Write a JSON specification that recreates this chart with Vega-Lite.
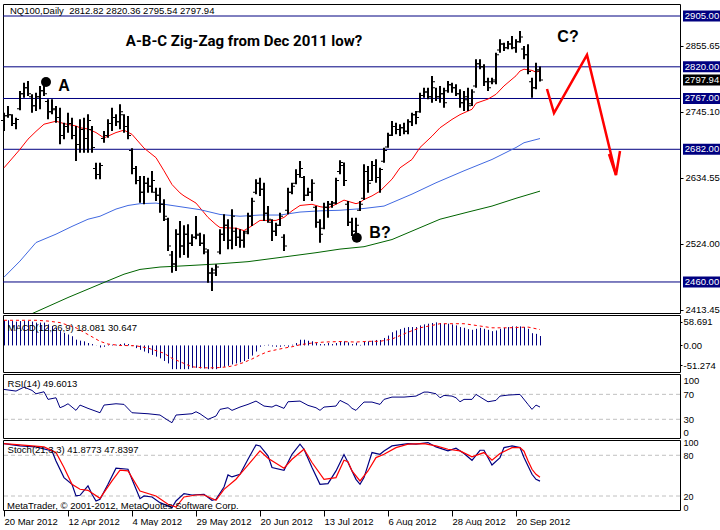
{
"$schema":"https://vega.github.io/schema/vega-lite/v6.json",
"padding":{"left":0,"top":3,"right":0,"bottom":0},
"background":"white",
"spacing":2,
"bounds":"flush",
"config":{"view":{"stroke":"black","strokeWidth":1},"font":"Liberation Sans","axis":{"labelFont":"Liberation Sans","labelFontSize":9.5,"labelColor":"black","tickColor":"black","domain":false,"grid":false}},
"datasets":{
"levels":[{"p":2905},{"p":2820},{"p":2767},{"p":2682},{"p":2460}],
"last":[{"p":2797.94}],
"bars":[{"i":0,"o":2730,"h":2743.3,"l":2712.6,"c":2738},{"i":1,"o":2738,"h":2754.4,"l":2734.9,"c":2740},{"i":2,"o":2740,"h":2740.5,"l":2720.9,"c":2725},{"i":3,"o":2725,"h":2734.9,"l":2715.4,"c":2732},{"i":4,"o":2750,"h":2779.5,"l":2747.2,"c":2775},{"i":5,"o":2775,"h":2793.5,"l":2768.4,"c":2785},{"i":6,"o":2785,"h":2796.2,"l":2771.1,"c":2775},{"i":7,"o":2770,"h":2773.9,"l":2743.3,"c":2755},{"i":8,"o":2755,"h":2776.7,"l":2746,"c":2770},{"i":9,"o":2770,"h":2787.9,"l":2748.8,"c":2780},{"i":10,"o":2780,"h":2790.7,"l":2771.1,"c":2775},{"i":11,"o":2762,"h":2765.6,"l":2732.1,"c":2745},{"i":12,"o":2745,"h":2765.6,"l":2740.5,"c":2750},{"i":13,"o":2748,"h":2754.4,"l":2726.5,"c":2735},{"i":14,"o":2735,"h":2751.6,"l":2690.3,"c":2705},{"i":15,"o":2705,"h":2726.5,"l":2698.6,"c":2720},{"i":16,"o":2720,"h":2743.3,"l":2709.8,"c":2725},{"i":17,"o":2725,"h":2734.9,"l":2698.6,"c":2705},{"i":18,"o":2705,"h":2720.9,"l":2662.4,"c":2690},{"i":19,"o":2690,"h":2732.1,"l":2676.3,"c":2715},{"i":20,"o":2715,"h":2734.9,"l":2676.3,"c":2700},{"i":21,"o":2700,"h":2740.5,"l":2676.3,"c":2730},{"i":22,"o":2715,"h":2720.9,"l":2676.3,"c":2685},{"i":23,"o":2650,"h":2659.6,"l":2631.7,"c":2640},{"i":24,"o":2640,"h":2659.6,"l":2631.7,"c":2655},{"i":25,"o":2700,"h":2712.6,"l":2693,"c":2705},{"i":26,"o":2705,"h":2732.1,"l":2701.4,"c":2725},{"i":27,"o":2725,"h":2751.6,"l":2712.6,"c":2735},{"i":28,"o":2735,"h":2740.5,"l":2720.9,"c":2728},{"i":29,"o":2728,"h":2757.2,"l":2715.4,"c":2745},{"i":30,"o":2740,"h":2740.5,"l":2709.8,"c":2720},{"i":31,"o":2720,"h":2737.7,"l":2698.6,"c":2705},{"i":32,"o":2680,"h":2683.6,"l":2640.1,"c":2650},{"i":33,"o":2650,"h":2654,"l":2623.4,"c":2630},{"i":34,"o":2630,"h":2637.3,"l":2592.7,"c":2610},{"i":35,"o":2610,"h":2637.3,"l":2589.9,"c":2625},{"i":36,"o":2625,"h":2634.5,"l":2609.4,"c":2620},{"i":37,"o":2620,"h":2645.7,"l":2609.4,"c":2630},{"i":38,"o":2610,"h":2617.8,"l":2595.5,"c":2605},{"i":39,"o":2605,"h":2617.8,"l":2576,"c":2590},{"i":40,"o":2590,"h":2598.3,"l":2562,"c":2570},{"i":41,"o":2565,"h":2567.6,"l":2511.8,"c":2520},{"i":42,"o":2505,"h":2511.8,"l":2475.6,"c":2490},{"i":43,"o":2490,"h":2548.1,"l":2478.4,"c":2540},{"i":44,"o":2540,"h":2562,"l":2500.7,"c":2520},{"i":45,"o":2520,"h":2555,"l":2505,"c":2540},{"i":46,"o":2540,"h":2556.5,"l":2500.7,"c":2525},{"i":47,"o":2525,"h":2539.8,"l":2520.2,"c":2535},{"i":48,"o":2535,"h":2570.4,"l":2531.4,"c":2540},{"i":49,"o":2538,"h":2542.5,"l":2520.2,"c":2525},{"i":50,"o":2525,"h":2539.8,"l":2506.3,"c":2515},{"i":51,"o":2510,"h":2514.7,"l":2458.9,"c":2475},{"i":52,"o":2475,"h":2484,"l":2445,"c":2480},{"i":53,"o":2475,"h":2489.6,"l":2470,"c":2485},{"i":54,"o":2510,"h":2548.1,"l":2506.3,"c":2540},{"i":55,"o":2540,"h":2573.2,"l":2528.6,"c":2555},{"i":56,"o":2555,"h":2564.8,"l":2514.7,"c":2530},{"i":57,"o":2530,"h":2581.6,"l":2514.7,"c":2570},{"i":58,"o":2545,"h":2550.9,"l":2520.2,"c":2535},{"i":59,"o":2535,"h":2548.1,"l":2517.4,"c":2530},{"i":60,"o":2530,"h":2545.3,"l":2517.4,"c":2542},{"i":61,"o":2545,"h":2576,"l":2539.8,"c":2570},{"i":62,"o":2570,"h":2601.1,"l":2553.7,"c":2595},{"i":63,"o":2610,"h":2631.8,"l":2606.7,"c":2625},{"i":64,"o":2625,"h":2634.6,"l":2603.9,"c":2615},{"i":65,"o":2615,"h":2626.2,"l":2562.1,"c":2575},{"i":66,"o":2575,"h":2587.2,"l":2559.3,"c":2565},{"i":67,"o":2560,"h":2564.8,"l":2528.6,"c":2545},{"i":68,"o":2545,"h":2559.3,"l":2537,"c":2555},{"i":69,"o":2555,"h":2576,"l":2553.7,"c":2570},{"i":70,"o":2535,"h":2539.8,"l":2511.9,"c":2520},{"i":71,"o":2580,"h":2617.8,"l":2573.2,"c":2610},{"i":72,"o":2610,"h":2626.2,"l":2606.7,"c":2620},{"i":73,"o":2625,"h":2648.5,"l":2623.4,"c":2640},{"i":74,"o":2640,"h":2662.5,"l":2634.6,"c":2650},{"i":75,"o":2635,"h":2637.4,"l":2595.5,"c":2605},{"i":76,"o":2605,"h":2617.8,"l":2603.9,"c":2610},{"i":77,"o":2610,"h":2631.8,"l":2595.5,"c":2625},{"i":78,"o":2585,"h":2587.2,"l":2550.9,"c":2560},{"i":79,"o":2560,"h":2564.8,"l":2525.8,"c":2540},{"i":80,"o":2550,"h":2592.7,"l":2548.1,"c":2585},{"i":81,"o":2585,"h":2595.5,"l":2567.6,"c":2590},{"i":82,"o":2590,"h":2595.5,"l":2584.4,"c":2592},{"i":83,"o":2592,"h":2634.6,"l":2589.9,"c":2630},{"i":84,"o":2645,"h":2663.6,"l":2640.1,"c":2660},{"i":85,"o":2655,"h":2659.7,"l":2620.6,"c":2630},{"i":86,"o":2590,"h":2595.5,"l":2553.7,"c":2560},{"i":87,"o":2560,"h":2567.6,"l":2536.9,"c":2545},{"i":88,"o":2545,"h":2567.6,"l":2539.8,"c":2555},{"i":89,"o":2580,"h":2595.5,"l":2578.8,"c":2590},{"i":90,"o":2600,"h":2657,"l":2597,"c":2645},{"i":91,"o":2645,"h":2654.1,"l":2609.5,"c":2625},{"i":92,"o":2630,"h":2662.4,"l":2629,"c":2655},{"i":93,"o":2655,"h":2665.2,"l":2626.2,"c":2635},{"i":94,"o":2635,"h":2651.3,"l":2609.5,"c":2648},{"i":95,"o":2662,"h":2684.7,"l":2659.6,"c":2680},{"i":96,"o":2686,"h":2709.8,"l":2684.7,"c":2705},{"i":97,"o":2706,"h":2729.4,"l":2704.3,"c":2720},{"i":98,"o":2720,"h":2726.6,"l":2707.1,"c":2715},{"i":99,"o":2715,"h":2723.8,"l":2704.3,"c":2718},{"i":100,"o":2718,"h":2726.6,"l":2707.1,"c":2712},{"i":101,"o":2712,"h":2732.1,"l":2707.1,"c":2728},{"i":102,"o":2728,"h":2743.3,"l":2721,"c":2740},{"i":103,"o":2740,"h":2746.1,"l":2723.8,"c":2735},{"i":104,"o":2745,"h":2776.8,"l":2743.3,"c":2772},{"i":105,"o":2772,"h":2785.1,"l":2768.4,"c":2778},{"i":106,"o":2778,"h":2785.1,"l":2765.6,"c":2770},{"i":107,"o":2770,"h":2804.6,"l":2760,"c":2795},{"i":108,"o":2785,"h":2785.1,"l":2762.8,"c":2770},{"i":109,"o":2770,"h":2787.9,"l":2760,"c":2775},{"i":110,"o":2775,"h":2785.1,"l":2751.7,"c":2760},{"i":111,"o":2780,"h":2796.3,"l":2776.8,"c":2790},{"i":112,"o":2790,"h":2793.5,"l":2776.8,"c":2785},{"i":113,"o":2785,"h":2790.7,"l":2771.2,"c":2775},{"i":114,"o":2775,"h":2782.3,"l":2751.7,"c":2760},{"i":115,"o":2760,"h":2779.5,"l":2746.1,"c":2770},{"i":116,"o":2765,"h":2785.1,"l":2746.1,"c":2755},{"i":117,"o":2758,"h":2782.3,"l":2754.5,"c":2778},{"i":118,"o":2788,"h":2832.5,"l":2785.1,"c":2825},{"i":119,"o":2825,"h":2832.5,"l":2815.8,"c":2820},{"i":120,"o":2820,"h":2824.2,"l":2787.9,"c":2795},{"i":121,"o":2795,"h":2801.9,"l":2779.5,"c":2785},{"i":122,"o":2795,"h":2801.9,"l":2790.7,"c":2798},{"i":123,"o":2795,"h":2843.7,"l":2790.7,"c":2840},{"i":124,"o":2848,"h":2866,"l":2843.7,"c":2858},{"i":125,"o":2858,"h":2860.4,"l":2846.5,"c":2852},{"i":126,"o":2852,"h":2863.2,"l":2849.3,"c":2858},{"i":127,"o":2858,"h":2871.6,"l":2849.3,"c":2852},{"i":128,"o":2852,"h":2866,"l":2843.7,"c":2862},{"i":129,"o":2862,"h":2879.9,"l":2860.4,"c":2870},{"i":130,"o":2850,"h":2854.8,"l":2832.5,"c":2840},{"i":131,"o":2840,"h":2857.6,"l":2807.4,"c":2812},{"i":132,"o":2795,"h":2801.9,"l":2768.4,"c":2785},{"i":133,"o":2785,"h":2826.9,"l":2782.3,"c":2815},{"i":134,"o":2812.82,"h":2820.36,"l":2795.54,"c":2797.94}],
"ma":[{"s":"fast","i":0,"v":2651},{"s":"fast","i":4,"v":2682},{"s":"fast","i":6,"v":2699},{"s":"fast","i":8,"v":2712},{"s":"fast","i":10,"v":2724},{"s":"fast","i":13,"v":2729},{"s":"fast","i":15,"v":2725},{"s":"fast","i":18,"v":2721},{"s":"fast","i":19,"v":2718},{"s":"fast","i":21,"v":2716},{"s":"fast","i":23,"v":2710},{"s":"fast","i":25,"v":2701},{"s":"fast","i":26,"v":2704},{"s":"fast","i":28,"v":2710},{"s":"fast","i":30,"v":2714},{"s":"fast","i":32,"v":2707},{"s":"fast","i":35,"v":2684},{"s":"fast","i":38,"v":2668},{"s":"fast","i":40,"v":2646},{"s":"fast","i":42,"v":2623},{"s":"fast","i":44,"v":2609},{"s":"fast","i":45,"v":2604},{"s":"fast","i":48,"v":2592},{"s":"fast","i":51,"v":2568},{"s":"fast","i":53,"v":2556},{"s":"fast","i":54,"v":2551},{"s":"fast","i":58,"v":2550},{"s":"fast","i":60,"v":2546},{"s":"fast","i":62,"v":2554},{"s":"fast","i":64,"v":2563},{"s":"fast","i":66,"v":2563},{"s":"fast","i":68,"v":2563},{"s":"fast","i":70,"v":2568},{"s":"fast","i":72,"v":2579},{"s":"fast","i":74,"v":2588},{"s":"fast","i":77,"v":2590},{"s":"fast","i":79,"v":2586},{"s":"fast","i":81,"v":2584},{"s":"fast","i":83,"v":2590},{"s":"fast","i":85,"v":2597},{"s":"fast","i":87,"v":2593},{"s":"fast","i":88,"v":2591},{"s":"fast","i":89,"v":2593},{"s":"fast","i":90,"v":2598},{"s":"fast","i":92,"v":2604},{"s":"fast","i":94,"v":2612},{"s":"fast","i":97,"v":2632},{"s":"fast","i":99,"v":2651},{"s":"fast","i":102,"v":2665},{"s":"fast","i":104,"v":2685},{"s":"fast","i":107,"v":2704},{"s":"fast","i":109,"v":2718},{"s":"fast","i":112,"v":2732},{"s":"fast","i":114,"v":2740},{"s":"fast","i":117,"v":2749},{"s":"fast","i":118,"v":2759},{"s":"fast","i":121,"v":2766},{"s":"fast","i":123,"v":2774},{"s":"fast","i":125,"v":2788},{"s":"fast","i":128,"v":2805},{"s":"fast","i":129,"v":2813},{"s":"fast","i":130,"v":2816},{"s":"fast","i":132,"v":2814},{"s":"fast","i":133,"v":2811},{"s":"fast","i":134,"v":2813},
{"s":"mid","i":0,"v":2468},{"s":"mid","i":4,"v":2495},{"s":"mid","i":8,"v":2526},{"s":"mid","i":13,"v":2540},{"s":"mid","i":17,"v":2553},{"s":"mid","i":21,"v":2565},{"s":"mid","i":24,"v":2570},{"s":"mid","i":28,"v":2582},{"s":"mid","i":31,"v":2588},{"s":"mid","i":34,"v":2591},{"s":"mid","i":38,"v":2592},{"s":"mid","i":41,"v":2589},{"s":"mid","i":45,"v":2585},{"s":"mid","i":49,"v":2581},{"s":"mid","i":54,"v":2573},{"s":"mid","i":59,"v":2570},{"s":"mid","i":64,"v":2572},{"s":"mid","i":69,"v":2572},{"s":"mid","i":74,"v":2577},{"s":"mid","i":79,"v":2579},{"s":"mid","i":84,"v":2580},{"s":"mid","i":90,"v":2583},{"s":"mid","i":95,"v":2587},{"s":"mid","i":102,"v":2607},{"s":"mid","i":108,"v":2626},{"s":"mid","i":115,"v":2646},{"s":"mid","i":122,"v":2665},{"s":"mid","i":128,"v":2685},{"s":"mid","i":130,"v":2693},{"s":"mid","i":134,"v":2700},
{"s":"slow","i":7,"v":2407},{"s":"slow","i":16,"v":2434},{"s":"slow","i":26,"v":2462},{"s":"slow","i":30,"v":2473},{"s":"slow","i":34,"v":2481},{"s":"slow","i":39,"v":2485},{"s":"slow","i":45,"v":2487},{"s":"slow","i":53,"v":2490},{"s":"slow","i":61,"v":2494},{"s":"slow","i":69,"v":2501},{"s":"slow","i":78,"v":2509},{"s":"slow","i":84,"v":2515},{"s":"slow","i":90,"v":2519},{"s":"slow","i":97,"v":2531},{"s":"slow","i":103,"v":2548},{"s":"slow","i":109,"v":2565},{"s":"slow","i":116,"v":2577},{"s":"slow","i":122,"v":2587},{"s":"slow","i":128,"v":2600},{"s":"slow","i":134,"v":2612}],
"proj":[{"seg":"a","k":1,"i":135.75,"p":2782.9},{"seg":"a","k":2,"i":137.5,"p":2742.7},{"seg":"a","k":3,"i":145.75,"p":2839.8},{"seg":"a","k":4,"i":153,"p":2639},{"seg":"b","k":1,"i":151.25,"p":2674.1},{"seg":"b","k":2,"i":153,"p":2639},{"seg":"b","k":3,"i":154,"p":2679.2}],
"dots":[{"i":10.5,"p":2794.6},{"i":88.2,"p":2534}],
"notes":[{"k":"title","i":60,"p":2863.2,"t":"A-B-C Zig-Zag from Dec 2011 low?"},{"k":"lab","i":15,"p":2787.9,"t":"A"},{"k":"lab","i":94,"p":2541.9,"t":"B?"},{"k":"lab","i":141,"p":2869.9,"t":"C?"}],
"hdr_main":[{"i":1.5,"p":2913.4,"t":"NQ100,Daily\u00a0\u00a02812.82 2820.36 2795.54 2797.94"}],
"macd":[{"i":0,"m":48.5},{"i":1,"m":48.5},{"i":2,"m":47},{"i":3,"m":46},{"i":4,"m":47},{"i":5,"m":47},{"i":6,"m":47},{"i":7,"m":46},{"i":8,"m":44},{"i":9,"m":44},{"i":10,"m":44},{"i":11,"m":40.6},{"i":12,"m":37.3},{"i":13,"m":34},{"i":14,"m":27.5},{"i":15,"m":24.2},{"i":16,"m":21},{"i":17,"m":17.7},{"i":18,"m":11.1},{"i":19,"m":9.2},{"i":20,"m":7.9},{"i":21,"m":4.6},{"i":22,"m":2.6},{"i":23,"m":0.3},{"i":24,"m":-4},{"i":25,"m":-2.6},{"i":26,"m":1.3},{"i":27,"m":1.3},{"i":28,"m":1.3},{"i":29,"m":2.6},{"i":30,"m":3.9},{"i":31,"m":2.6},{"i":32,"m":-1.3},{"i":33,"m":-5.2},{"i":34,"m":-8.5},{"i":35,"m":-11.8},{"i":36,"m":-15},{"i":37,"m":-18.3},{"i":38,"m":-21.6},{"i":39,"m":-24.9},{"i":40,"m":-30},{"i":41,"m":-34.7},{"i":42,"m":-45.8},{"i":43,"m":-45.8},{"i":44,"m":-45.8},{"i":45,"m":-45.8},{"i":46,"m":-45.8},{"i":47,"m":-43.2},{"i":48,"m":-43.2},{"i":49,"m":-44.5},{"i":50,"m":-44.5},{"i":51,"m":-45.8},{"i":52,"m":-45.8},{"i":53,"m":-45.8},{"i":54,"m":-43.2},{"i":55,"m":-41.3},{"i":56,"m":-39.3},{"i":57,"m":-36.7},{"i":58,"m":-34.7},{"i":59,"m":-32.7},{"i":60,"m":-30.1},{"i":61,"m":-26.2},{"i":62,"m":-19.6},{"i":63,"m":-11.8},{"i":64,"m":-2.6},{"i":65,"m":-0.7},{"i":66,"m":1.3},{"i":67,"m":-2},{"i":68,"m":-2.6},{"i":69,"m":-2.6},{"i":70,"m":-1.3},{"i":71,"m":-2.6},{"i":72,"m":1.3},{"i":73,"m":4.6},{"i":74,"m":11},{"i":75,"m":11},{"i":76,"m":9},{"i":77,"m":8},{"i":78,"m":4.6},{"i":79,"m":2.6},{"i":80,"m":2.6},{"i":81,"m":4.6},{"i":82,"m":2.6},{"i":83,"m":4.6},{"i":84,"m":7.9},{"i":85,"m":7.9},{"i":86,"m":5.9},{"i":87,"m":2.6},{"i":88,"m":5.2},{"i":89,"m":1},{"i":90,"m":7.9},{"i":91,"m":7.9},{"i":92,"m":9.2},{"i":93,"m":10.5},{"i":94,"m":10.5},{"i":95,"m":14.4},{"i":96,"m":19},{"i":97,"m":25.5},{"i":98,"m":28.8},{"i":99,"m":31.4},{"i":100,"m":34},{"i":101,"m":35.4},{"i":102,"m":35.4},{"i":103,"m":35.4},{"i":104,"m":38.6},{"i":105,"m":40.6},{"i":106,"m":41.9},{"i":107,"m":43.2},{"i":108,"m":44.5},{"i":109,"m":43.2},{"i":110,"m":41.9},{"i":111,"m":41.9},{"i":112,"m":40.6},{"i":113,"m":38.6},{"i":114,"m":35.4},{"i":115,"m":34},{"i":116,"m":31.4},{"i":117,"m":30.1},{"i":118,"m":32.1},{"i":119,"m":34},{"i":120,"m":32.1},{"i":121,"m":30.1},{"i":122,"m":27.5},{"i":123,"m":28.8},{"i":124,"m":32.1},{"i":125,"m":34},{"i":126,"m":35.4},{"i":127,"m":36.7},{"i":128,"m":36.7},{"i":129,"m":36.7},{"i":130,"m":35.4},{"i":131,"m":32.1},{"i":132,"m":23.6},{"i":133,"m":22.3},{"i":134,"m":18.1}],
"sig":[{"i":0,"m":48.5},{"i":3,"m":48.5},{"i":8,"m":48.5},{"i":11,"m":47},{"i":14,"m":44},{"i":18,"m":34},{"i":21,"m":21},{"i":24,"m":7.9},{"i":26,"m":2.6},{"i":29,"m":0},{"i":33,"m":-0.7},{"i":36,"m":-5.2},{"i":40,"m":-15},{"i":42,"m":-24.9},{"i":44,"m":-31.4},{"i":47,"m":-41.3},{"i":50,"m":-43.2},{"i":53,"m":-43.2},{"i":56,"m":-41.3},{"i":58,"m":-38},{"i":60,"m":-32.7},{"i":62,"m":-26.2},{"i":64,"m":-18.3},{"i":66,"m":-11.8},{"i":68,"m":-8.5},{"i":70,"m":-5.2},{"i":72,"m":-2.6},{"i":74,"m":1.3},{"i":77,"m":4.6},{"i":80,"m":6.5},{"i":84,"m":7.5},{"i":88,"m":6.5},{"i":91,"m":7.9},{"i":94,"m":7.9},{"i":97,"m":12.4},{"i":101,"m":25.5},{"i":104,"m":34},{"i":107,"m":38.6},{"i":109,"m":41.9},{"i":115,"m":41.9},{"i":118,"m":38.6},{"i":122,"m":34},{"i":126,"m":34},{"i":131,"m":35.4},{"i":134,"m":30.6}],
"hdr_macd":[{"i":0.9,"m":33.6,"t":"MACD(12,26,9) 18.081 30.647"}],
"rsi":[{"i":0,"r":77.9},{"i":3,"r":75.2},{"i":5,"r":81.6},{"i":7,"r":76.3},{"i":8,"r":70.9},{"i":10,"r":74.1},{"i":11,"r":61.9},{"i":13,"r":64.5},{"i":14,"r":48.5},{"i":15,"r":51.2},{"i":16,"r":54.9},{"i":18,"r":44.3},{"i":19,"r":52.8},{"i":21,"r":47.5},{"i":24,"r":40.5},{"i":25,"r":52.8},{"i":28,"r":54.9},{"i":30,"r":53.9},{"i":32,"r":40.5},{"i":36,"r":38.9},{"i":39,"r":36.8},{"i":41,"r":28.3},{"i":42,"r":24.5},{"i":43,"r":36.8},{"i":47,"r":38.9},{"i":48,"r":42.1},{"i":49,"r":38.9},{"i":51,"r":29.9},{"i":53,"r":35.2},{"i":54,"r":45.9},{"i":56,"r":48.5},{"i":57,"r":44.3},{"i":59,"r":49.6},{"i":61,"r":53.9},{"i":63,"r":59.2},{"i":65,"r":51.2},{"i":67,"r":49.6},{"i":68,"r":52.8},{"i":70,"r":47.5},{"i":71,"r":58.1},{"i":74,"r":59.2},{"i":76,"r":52.3},{"i":78,"r":48.5},{"i":79,"r":44.3},{"i":80,"r":49.6},{"i":83,"r":51.2},{"i":84,"r":60.3},{"i":86,"r":53.9},{"i":87,"r":47.5},{"i":88,"r":44.3},{"i":89,"r":51.2},{"i":90,"r":57.6},{"i":92,"r":57.6},{"i":94,"r":53.9},{"i":95,"r":61.9},{"i":97,"r":65.6},{"i":100,"r":65.6},{"i":103,"r":67.2},{"i":105,"r":73.6},{"i":106,"r":73.6},{"i":108,"r":70.9},{"i":109,"r":64.5},{"i":110,"r":68.3},{"i":112,"r":67.2},{"i":113,"r":64.5},{"i":114,"r":58.1},{"i":115,"r":61.9},{"i":117,"r":61.9},{"i":118,"r":69.9},{"i":120,"r":61.9},{"i":121,"r":58.1},{"i":123,"r":60.3},{"i":124,"r":67.2},{"i":126,"r":68.8},{"i":129,"r":69.9},{"i":131,"r":53.9},{"i":132,"r":45.9},{"i":133,"r":52.8},{"i":134,"r":49.6}],
"rsilev":[{"r":70},{"r":30}],
"hdr_rsi":[{"i":0.9,"r":86.6,"t":"RSI(14) 49.6013"}],
"stk":[{"i":0,"s":97.1},{"i":4,"s":93.8},{"i":8,"s":92.3},{"i":12,"s":86.4},{"i":13,"s":71.7},{"i":15,"s":47.1},{"i":17,"s":37.3},{"i":18,"s":20.1},{"i":19,"s":21.1},{"i":21,"s":34.9},{"i":22,"s":22.6},{"i":23,"s":12.7},{"i":24,"s":15.1},{"i":26,"s":37.3},{"i":28,"s":60.9},{"i":31,"s":59.5},{"i":32,"s":44.7},{"i":34,"s":16.1},{"i":35,"s":20.1},{"i":37,"s":18.6},{"i":39,"s":10.2},{"i":42,"s":2.9},{"i":43,"s":12.7},{"i":45,"s":23.5},{"i":47,"s":21.5},{"i":50,"s":22.6},{"i":52,"s":13.7},{"i":53,"s":15.1},{"i":55,"s":33.3},{"i":56,"s":51},{"i":57,"s":48.1},{"i":59,"s":52},{"i":61,"s":74.1},{"i":63,"s":95.3},{"i":64,"s":93.8},{"i":66,"s":79.1},{"i":67,"s":61.9},{"i":70,"s":58},{"i":72,"s":81.5},{"i":74,"s":96.3},{"i":75,"s":88.9},{"i":77,"s":61.9},{"i":79,"s":37.3},{"i":81,"s":38.2},{"i":83,"s":57},{"i":85,"s":81},{"i":86,"s":69.3},{"i":88,"s":44.6},{"i":89,"s":37.3},{"i":90,"s":47.1},{"i":92,"s":84},{"i":94,"s":81.5},{"i":95,"s":86.4},{"i":97,"s":93.8},{"i":101,"s":97.2},{"i":103,"s":96.3},{"i":106,"s":98.7},{"i":108,"s":92.3},{"i":111,"s":86.4},{"i":113,"s":90.4},{"i":115,"s":82.5},{"i":117,"s":72.6},{"i":119,"s":87.4},{"i":120,"s":87.4},{"i":122,"s":65.8},{"i":124,"s":76.6},{"i":125,"s":91.3},{"i":127,"s":93.8},{"i":129,"s":91.3},{"i":130,"s":76.6},{"i":132,"s":52},{"i":133,"s":44.6},{"i":134,"s":41.9}],
"std":[{"i":0,"s":97.1},{"i":4,"s":95.3},{"i":10,"s":92.3},{"i":13,"s":84},{"i":15,"s":61.9},{"i":17,"s":37.3},{"i":19,"s":29.9},{"i":21,"s":28.4},{"i":24,"s":16.6},{"i":27,"s":42.2},{"i":29,"s":58},{"i":31,"s":57},{"i":34,"s":27.4},{"i":38,"s":20.1},{"i":41,"s":7.8},{"i":43,"s":3.8},{"i":45,"s":18.6},{"i":48,"s":21.5},{"i":50,"s":21.5},{"i":53,"s":13.7},{"i":55,"s":29.9},{"i":58,"s":44.7},{"i":59,"s":52},{"i":64,"s":86.4},{"i":66,"s":75.6},{"i":70,"s":60.9},{"i":72,"s":74.1},{"i":75,"s":88.9},{"i":77,"s":69.3},{"i":80,"s":44.7},{"i":83,"s":47.1},{"i":85,"s":72.6},{"i":86,"s":70.6},{"i":87,"s":56.9},{"i":89,"s":42.2},{"i":91,"s":56.9},{"i":93,"s":76.6},{"i":95,"s":81.5},{"i":98,"s":91.3},{"i":101,"s":96.3},{"i":105,"s":97.2},{"i":108,"s":93.8},{"i":111,"s":88.9},{"i":114,"s":86.4},{"i":117,"s":77.6},{"i":120,"s":84},{"i":122,"s":72.6},{"i":124,"s":82.5},{"i":127,"s":91.3},{"i":129,"s":91.3},{"i":130,"s":86},{"i":131,"s":72},{"i":132,"s":59.4},{"i":133,"s":52},{"i":134,"s":47.8}],
"stlev":[{"s":80},{"s":20}],
"hdr_st":[{"i":0.9,"s":87.8,"t":"Stoch(21,3,3) 41.8773 47.8397"},{"i":0.75,"s":5.3,"t":"MetaTrader, © 2001-2012, MetaQuotes Software Corp."}]
},
"vconcat":[
{"width":677,"height":309,
 "layer":[
  {"data":{"name":"levels"},"mark":{"type":"rule","color":"#000080","strokeWidth":1},
   "encoding":{"y":{"field":"p","type":"quantitative","scale":{"domain":[2408.1,2925.1],"nice":false,"zero":false},
     "axis":{"orient":"right","title":null,"values":[2413.45,2467,2524,2578.45,2634.55,2690,2745.1,2800.38,2855.65,2910.1],"format":".2f","tickSize":3,"labelPadding":2,"labelOverlap":false,"labelBaseline":"middle"}}}},
  {"data":{"name":"ma"},"mark":{"type":"line","strokeWidth":1,"clip":true},
   "encoding":{"x":{"field":"i","type":"quantitative","scale":{"domain":[-0.25,169],"nice":false,"zero":false},"axis":null},"y":{"field":"v","type":"quantitative"},"color":{"field":"s","type":"nominal","scale":{"domain":["fast","mid","slow"],"range":["#FF0000","#4169E1","#006400"]},"legend":null}}},
  {"data":{"name":"bars"},"mark":{"type":"rule","color":"black","strokeWidth":2},
   "encoding":{"x":{"field":"i","type":"quantitative"},"y":{"field":"h","type":"quantitative"},"y2":{"field":"l"}}},
  {"data":{"name":"bars"},"mark":{"type":"tick","orient":"horizontal","color":"black","size":2,"thickness":1,"xOffset":-2,"opacity":1},
   "encoding":{"x":{"field":"i","type":"quantitative"},"y":{"field":"o","type":"quantitative"}}},
  {"data":{"name":"bars"},"mark":{"type":"tick","orient":"horizontal","color":"black","size":2,"thickness":1,"xOffset":2,"opacity":1},
   "encoding":{"x":{"field":"i","type":"quantitative"},"y":{"field":"c","type":"quantitative"}}},
  {"data":{"name":"proj"},"mark":{"type":"line","color":"#FF0000","strokeWidth":2.5},
   "encoding":{"x":{"field":"i","type":"quantitative"},"y":{"field":"p","type":"quantitative"},"detail":{"field":"seg","type":"nominal"},"order":{"field":"k","type":"quantitative"}}},
  {"data":{"name":"dots"},"mark":{"type":"point","shape":"circle","filled":true,"color":"black","size":100,"opacity":1},
   "encoding":{"x":{"field":"i","type":"quantitative"},"y":{"field":"p","type":"quantitative"}}},
  {"data":{"name":"notes"},"transform":[{"filter":"datum.k=='title'"}],"mark":{"type":"text","font":"Roboto","fontWeight":"bold","fontSize":15,"align":"center","baseline":"middle","color":"black"},
   "encoding":{"x":{"field":"i","type":"quantitative"},"y":{"field":"p","type":"quantitative"},"text":{"field":"t"}}},
  {"data":{"name":"notes"},"transform":[{"filter":"datum.k=='lab'"}],"mark":{"type":"text","font":"Liberation Sans","fontWeight":"bold","fontSize":16,"align":"center","baseline":"middle","color":"black"},
   "encoding":{"x":{"field":"i","type":"quantitative"},"y":{"field":"p","type":"quantitative"},"text":{"field":"t"}}},
  {"data":{"name":"hdr_main"},"mark":{"type":"text","fontSize":9.5,"align":"left","baseline":"middle","color":"black"},
   "encoding":{"x":{"field":"i","type":"quantitative"},"y":{"field":"p","type":"quantitative"},"text":{"field":"t"}}},
  {"data":{"name":"levels"},"mark":{"type":"point","shape":"M3,-5.5H41V5.5H3Z","size":4,"filled":true,"color":"#000080","strokeWidth":0,"opacity":1},
   "encoding":{"x":{"value":"width"},"y":{"field":"p","type":"quantitative"}}},
  {"data":{"name":"levels"},"mark":{"type":"text","color":"white","fontSize":9.5,"align":"center","baseline":"middle","dx":22},
   "encoding":{"x":{"value":"width"},"y":{"field":"p","type":"quantitative"},"text":{"field":"p","type":"quantitative","format":".2f"}}},
  {"data":{"name":"last"},"mark":{"type":"point","shape":"M3,-5.5H41V5.5H3Z","size":4,"filled":true,"color":"black","strokeWidth":0,"opacity":1},
   "encoding":{"x":{"value":"width"},"y":{"field":"p","type":"quantitative"}}},
  {"data":{"name":"last"},"mark":{"type":"text","color":"white","fontSize":9.5,"align":"center","baseline":"middle","dx":22},
   "encoding":{"x":{"value":"width"},"y":{"field":"p","type":"quantitative"},"text":{"field":"p","type":"quantitative","format":".2f"}}}
 ]},
{"width":677,"height":57,
 "encoding":{"y":{"field":"m","type":"quantitative","scale":{"domain":[-51.274,58.691],"nice":false,"zero":false},"axis":{"orient":"right","title":null,"values":[-37.8,0,45.2],"labelExpr":"datum.value>40?'58.691':datum.value<-30?'-51.274':'0.00'","tickSize":2,"labelPadding":1,"labelOverlap":false,"labelBaseline":"middle"}}},
 "layer":[
  {"data":{"name":"macd"},"mark":{"type":"rule","color":"#000080","strokeWidth":1,"xOffset":0.5},
   "encoding":{"x":{"field":"i","type":"quantitative","scale":{"domain":[-0.25,169],"nice":false,"zero":false},"axis":null},"y2":{"datum":0}}},
  {"data":{"name":"sig"},"mark":{"type":"line","color":"#FF0000","strokeWidth":1,"strokeDash":[3,3]},
   "encoding":{"x":{"field":"i","type":"quantitative"}}},
  {"data":{"name":"hdr_macd"},"mark":{"type":"text","fontSize":9.5,"align":"left","baseline":"middle","color":"black"},
   "encoding":{"x":{"field":"i","type":"quantitative"},"text":{"field":"t"}}}
 ]},
{"width":677,"height":64,
 "encoding":{"y":{"field":"r","type":"quantitative","scale":{"domain":[0,102.6],"nice":false,"zero":false},"axis":{"orient":"right","title":null,"values":[9.6,30,70,91.4],"labelExpr":"datum.value>90?'100':datum.value<10?'0':datum.label","tickSize":2,"tickOpacity":0,"labelPadding":1,"labelOverlap":false,"labelBaseline":"middle"}}},
 "layer":[
  {"data":{"name":"rsilev"},"mark":{"type":"rule","color":"#C0C0C0","strokeWidth":1,"strokeDash":[4,3]}},
  {"data":{"name":"rsi"},"mark":{"type":"line","color":"#000080","strokeWidth":1},
   "encoding":{"x":{"field":"i","type":"quantitative","scale":{"domain":[-0.25,169],"nice":false,"zero":false},"axis":null}}},
  {"data":{"name":"hdr_rsi"},"mark":{"type":"text","fontSize":9.5,"align":"left","baseline":"middle","color":"black"},
   "encoding":{"x":{"field":"i","type":"quantitative"},"text":{"field":"t"}}}
 ]},
{"width":677,"height":70,
 "encoding":{"y":{"field":"s","type":"quantitative","scale":{"domain":[-0.6,102.5],"nice":false,"zero":false},"axis":{"orient":"right","title":null,"values":[3.5,20,80,98.3],"labelExpr":"datum.value>90?'100':datum.value<10?'0':datum.label","labelFontSize":9,"tickSize":2,"tickOpacity":0,"labelPadding":1,"labelOverlap":false,"labelBaseline":"middle"}}},
 "layer":[
  {"data":{"name":"stlev"},"mark":{"type":"rule","color":"#C0C0C0","strokeWidth":1,"strokeDash":[4,3]}},
  {"data":{"name":"stk"},"mark":{"type":"line","color":"#000080","strokeWidth":1.2},
   "encoding":{"x":{"field":"i","type":"quantitative","scale":{"domain":[-0.25,169],"nice":false,"zero":false},
     "axis":{"orient":"bottom","title":null,"values":[0,16,32,48,64,80,96,112,128],"labelExpr":"['20 Mar 2012','12 Apr 2012','4 May 2012','29 May 2012','20 Jun 2012','13 Jul 2012','6 Aug 2012','28 Aug 2012','20 Sep 2012'][round(datum.value/16)]","labelAlign":"left","labelDx":2,"tickSize":6,"labelPadding":0,"labelBaseline":"top","labelOverlap":false,"labelFlush":false}}}},
  {"data":{"name":"std"},"mark":{"type":"line","color":"#FF0000","strokeWidth":1.2},
   "encoding":{"x":{"field":"i","type":"quantitative"}}},
  {"data":{"name":"hdr_st"},"mark":{"type":"text","fontSize":9.5,"align":"left","baseline":"middle","color":"black"},
   "encoding":{"x":{"field":"i","type":"quantitative"},"text":{"field":"t"}}}
 ]}
]
}
